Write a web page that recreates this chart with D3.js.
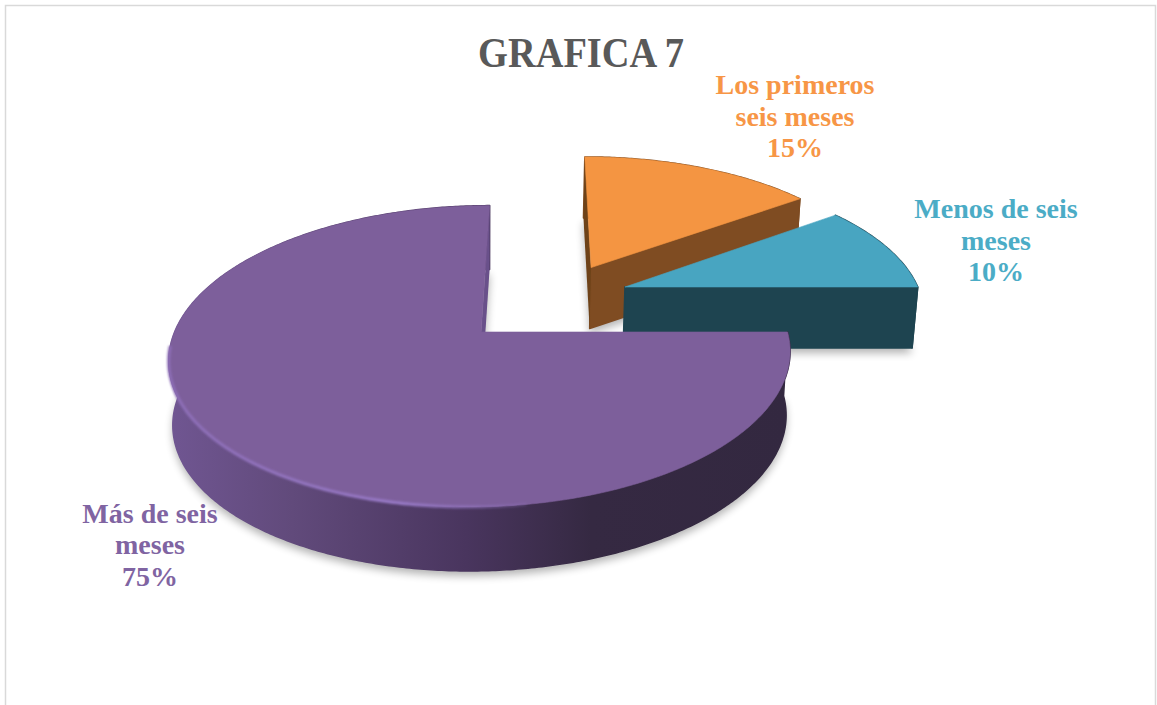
<!DOCTYPE html>
<html>
<head>
<meta charset="utf-8">
<script src="https://d3js.org/d3.v7.min.js"></script>
<style>
  html, body { margin: 0; padding: 0; background: #fff; }
  svg { display: block; }
  text { font-family: "Liberation Serif", serif; font-weight: bold; text-anchor: middle; }
</style>
</head>
<body>
<svg id="chart" width="1157" height="705"></svg>
<script>
// data
const title = "GRAFICA 7"
const categories = ["Los primeros seis meses", "Menos de seis meses", "Más de seis meses"]
const percents = [15, 10, 75]
const labelLines = [["Los primeros", "seis meses", "15%"], ["Menos de seis", "meses", "10%"], ["Más de seis", "meses", "75%"]]

////////////////// look of the slices /////////////////////////
const topColors = ["#f49542", "#48a5c1", "#7d5f9b"]
const sideColors = ["#7f4c22", "#1e4450", "url(#purpleSide)"]
const wallColors = ["#6e4218", "#1e4450", "#69508a"]
const labelColors = ["#f79646", "#4bacc6", "#8064a2"]
const explode = [[0.366, -0.47], [0.478, -0.321], [-0.003, 0]]
const radius = [1, 1, 0.995]
const depths = [61, 61, 64]
const labelAt = [[795, 94], [996, 218], [150, 522.5]]

// tilted plane of the pie, with some perspective
const view = { cx: 482, cy: 332, rx: 308, ry: 147.5, shear: -9.9, persp: 0.162, shrink: 0.987 }

const project = (u, v) => {
    let w = 1 - view.persp * v
    return [view.cx + (view.rx * u + view.shear * v) / w, view.cy + view.ry * v / w]
}
const lowerBy = (depth) => (p) => [view.cx + (p[0] - view.cx) * view.shrink, p[1] + depth]

const svg = d3.select("#chart")
const defs = svg.append("defs")

let grad = defs.append("linearGradient").attr("id", "purpleSide")
    .attr("gradientUnits", "userSpaceOnUse").attr("x1", 168).attr("x2", 790).attr("y1", 0).attr("y2", 0)
grad.selectAll("stop").data([[0, "#705692"], [0.2, "#614a7b"], [0.48, "#49355e"], [0.68, "#352942"], [1, "#332840"]])
    .join("stop").attr("offset", d => d[0]).attr("stop-color", d => d[1])

let rim = defs.append("linearGradient").attr("id", "rimLight")
    .attr("gradientUnits", "userSpaceOnUse").attr("x1", 168).attr("x2", 560).attr("y1", 0).attr("y2", 0)
rim.selectAll("stop").data([[0, "#8c6db5", 1], [0.6, "#9678c4", 1], [1, "#9678c4", 0]])
    .join("stop").attr("offset", d => d[0]).attr("stop-color", d => d[1]).attr("stop-opacity", d => d[2])

defs.append("filter").attr("id", "soft").attr("x", "-10%").attr("y", "-10%").attr("width", "120%").attr("height", "120%")
    .append("feGaussianBlur").attr("stdDeviation", 4.5)
defs.append("filter").attr("id", "softer").append("feGaussianBlur").attr("stdDeviation", 0.9)

// frame of the chart area
svg.append("path").attr("d", "M5.5,705V5.5H1155.5V705").attr("fill", "none").attr("stroke", "#d9d9d9").attr("stroke-width", 1.5)

svg.append("text").attr("x", 581).attr("y", 67).attr("font-size", 43).attr("fill", "#595959")
    .attr("textLength", 206).attr("lengthAdjust", "spacingAndGlyphs").text(title)

const slices = d3.pie().sort(null).startAngle(0).endAngle(2 * Math.PI)(percents)
const line = d3.line()

const arcPoints = (d, i, from, to) => {
    let n = Math.max(2, Math.ceil((to - from) / 0.01))
    return d3.range(n + 1).map(k => {
        let a = from + (to - from) * k / n
        return project(explode[i][0] + radius[i] * Math.sin(a), explode[i][1] - radius[i] * Math.cos(a))
    })
}

slices.forEach((d, i) => {
    let g = svg.append("g").attr("class", "slice").attr("data-name", categories[i])
    let lower = lowerBy(depths[i])
    let apex = project(explode[i][0], explode[i][1])
    let outer = arcPoints(d, i, d.startAngle, d.endAngle)
    let face = [apex].concat(outer)
    let first = outer[0], last = outer[outer.length - 1]

    // soft shadow under the whole block
    g.append("path")
        .attr("d", line(face.map(lower)) + "Z")
        .attr("transform", "translate(0,5)")
        .attr("fill", "#000").attr("opacity", 0.3).attr("filter", "url(#soft)")

    // curved side
    g.append("path")
        .attr("d", line(outer.concat(outer.map(lower).reverse())) + "Z")
        .attr("fill", sideColors[i]).attr("stroke", sideColors[i]).attr("stroke-width", 1.5).attr("stroke-linejoin", "round")

    // the straight cut walls, the one at angle zero is a bit different in tone
    if (i < 2) {
        g.append("path")
            .attr("d", line([apex, last, lower(last), lower(apex)]) + "Z")
            .attr("fill", sideColors[i]).attr("stroke", sideColors[i])
            .attr("stroke-width", 1.5).attr("stroke-linejoin", "round")
    }
    let zeroEdge = i == 2 ? last : first
    if (i != 1) {
        g.append("path")
            .attr("d", line([apex, zeroEdge, lower(zeroEdge), lower(apex)]) + "Z")
            .attr("fill", wallColors[i])
    }

    // top of the slice
    g.append("path").attr("d", line(face) + "Z").attr("fill", topColors[i])
        .attr("stroke", topColors[i]).attr("stroke-width", 0.6).attr("stroke-linejoin", "round")

    // lit bevel on the big slice
    if (i == 2) {
        g.append("path")
            .attr("d", line(arcPoints(d, i, Math.PI * 0.95, Math.PI * 1.47)))
            .attr("fill", "none").attr("stroke", "url(#rimLight)").attr("stroke-width", 3.2)
            .attr("filter", "url(#softer)")
    }
})

slices.forEach((d, i) => {
    let t = svg.append("text").attr("font-size", 28).attr("fill", labelColors[i])
    labelLines[i].forEach((s, k) => {
        t.append("tspan").attr("x", labelAt[i][0]).attr("y", labelAt[i][1] + k * 31.5).text(s)
    })
})
</script>
</body>
</html>
